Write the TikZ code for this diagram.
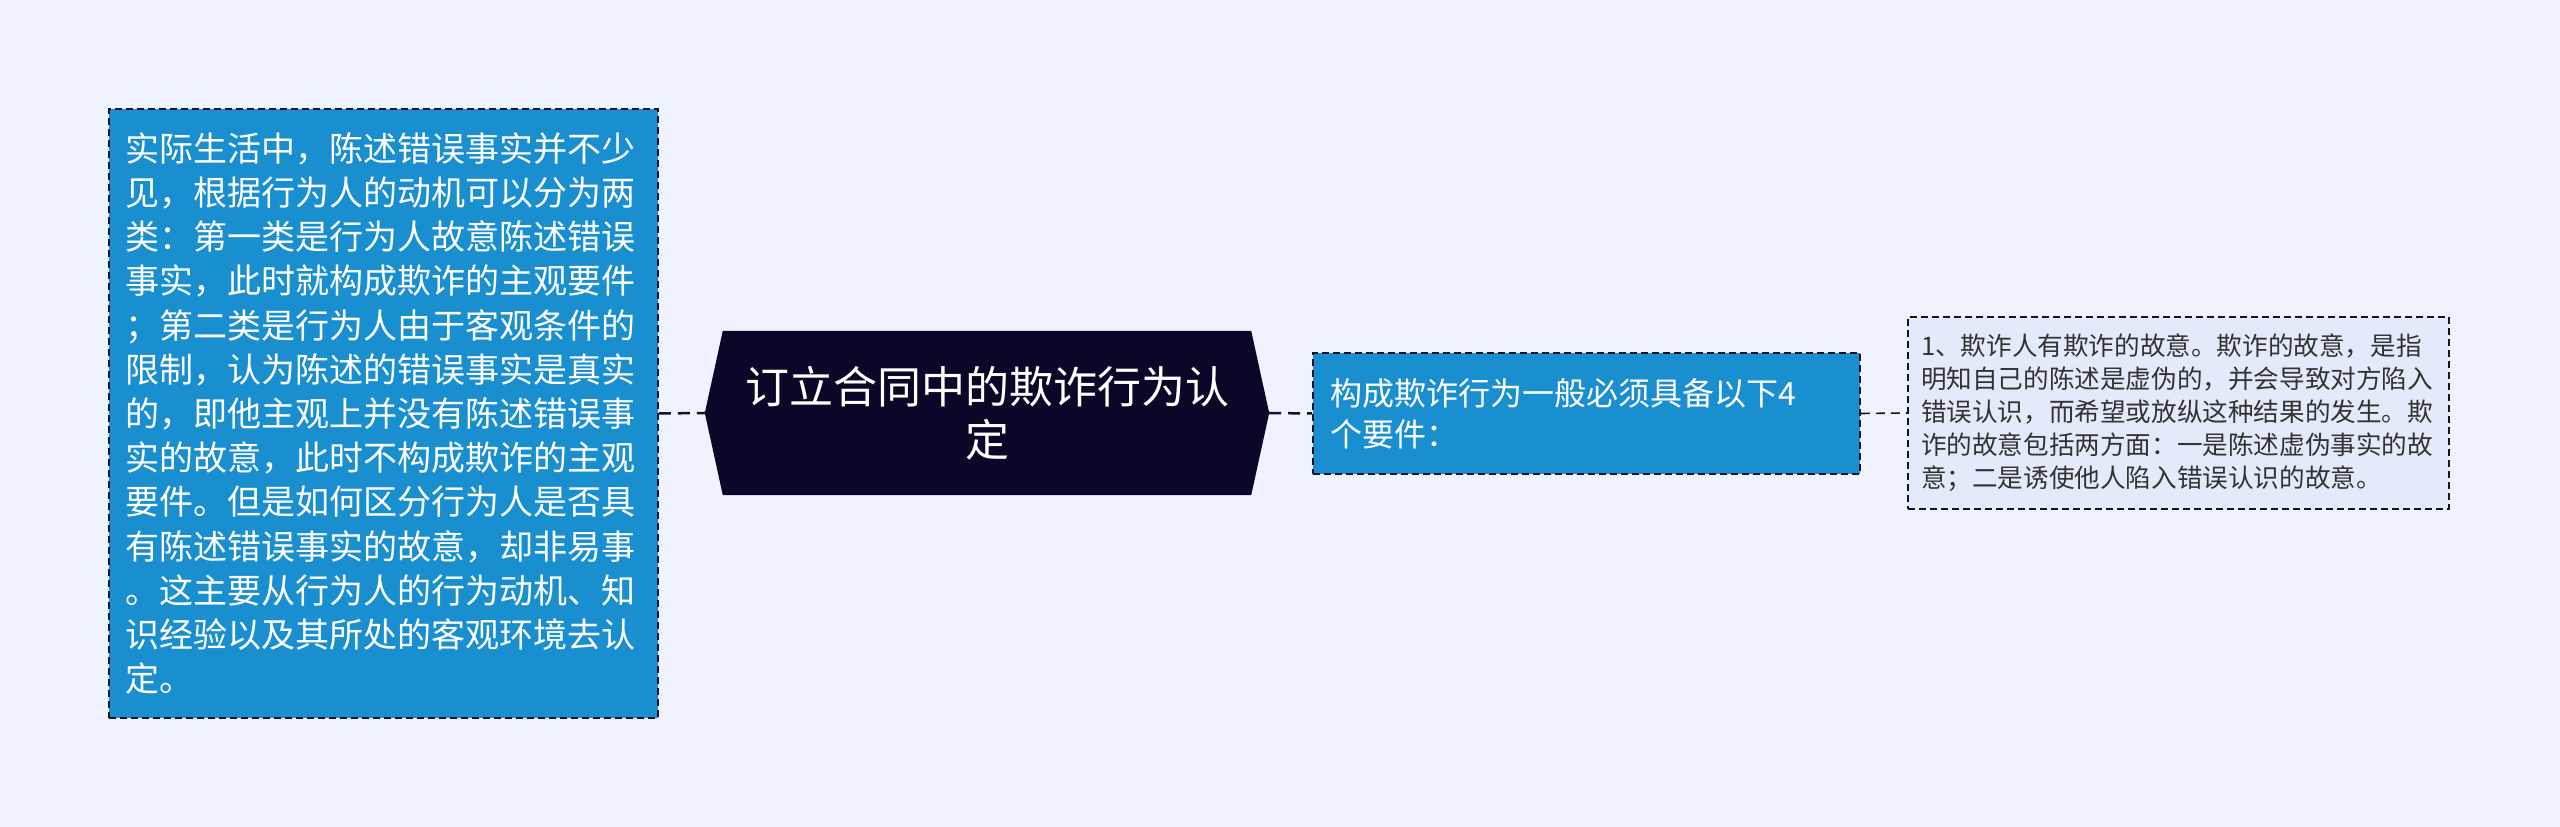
\documentclass[tikz,border=0pt]{standalone}
\usepackage{fontspec}
\setmainfont{Noto Sans CJK SC}
\definecolor{bgc}{HTML}{EEF3FE}
\definecolor{bluebox}{HTML}{1A8FD0}
\definecolor{navy}{HTML}{0B0728}
\definecolor{lineclr}{HTML}{14112E}
\definecolor{leafbg}{HTML}{E3EBFA}
\definecolor{leaftext}{HTML}{333333}
\tikzset{
  bluenode/.style={draw=lineclr, dash pattern=on 7pt off 4pt, line width=1.6pt, fill=bluebox,
    text=white, align=left, anchor=center, inner ysep=0pt},
  leafnode/.style={draw=lineclr, dash pattern=on 7pt off 4pt, line width=1.6pt, fill=leafbg,
    text=leaftext, align=left, anchor=center, inner ysep=0pt},
  link/.style={draw=lineclr, line width=2.5pt, dash pattern=on 12pt off 7pt}
}
\begin{document}
\begin{tikzpicture}[x=1pt,y=1pt]
\useasboundingbox (0,0) rectangle (2560,827);
\fill[bgc] (0,0) rectangle (2560,827);

% left box
\node[bluenode, minimum width=549pt, minimum height=609pt, text width=517pt, inner xsep=16pt,
  font=\fontsize{34}{44.2}\selectfont] (L) at (383.5,413.5)
{实际生活中，陈述错误事实并不少\\
见，根据行为人的动机可以分为两\\
类：第一类是行为人故意陈述错误\\
事实，此时就构成欺诈的主观要件\\
；第二类是行为人由于客观条件的\\
限制，认为陈述的错误事实是真实\\
的，即他主观上并没有陈述错误事\\
实的故意，此时不构成欺诈的主观\\
要件。但是如何区分行为人是否具\\
有陈述错误事实的故意，却非易事\\
。这主要从行为人的行为动机、知\\
识经验以及其所处的客观环境去认\\
定。};

% center node
\node[minimum width=564pt, minimum height=164pt, text=white, align=center, inner sep=0pt,
  font=\fontsize{44}{53}\selectfont] (C) at (987,414) {};
\fill[navy] (C.west) -- ([xshift=18pt]C.north west) -- ([xshift=-18pt]C.north east) -- (C.east)
  -- ([xshift=-18pt]C.south east) -- ([xshift=18pt]C.south west) -- cycle;
\node[text=white, align=center, font=\fontsize{44}{53}\selectfont] (CT) at (C.center)
{订立合同中的欺诈行为认\\定};

% middle node
\node[bluenode, minimum width=547pt, minimum height=121pt, text width=513pt, inner xsep=17pt,
  font=\fontsize{32}{41}\selectfont] (M) at (1586.5,413.5)
{构成欺诈行为一般必须具备以下4\\个要件：};

% right leaf
\node[leafnode, minimum width=541pt, minimum height=192pt, text width=515pt, inner xsep=13pt,
  font=\fontsize{25.6}{33}\selectfont] (R) at (2178.5,414)
{1、欺诈人有欺诈的故意。欺诈的故意，是指\\
明知自己的陈述是虚伪的，并会导致对方陷入\\
错误认识，而希望或放纵这种结果的发生。欺\\
诈的故意包括两方面：一是陈述虚伪事实的故\\
意；二是诱使他人陷入错误认识的故意。};

% connectors
\draw[link] (L.east) -- (C.west);
\draw[link] (C.east) -- (M.west);
\draw[draw=lineclr, line width=1.6pt, dash pattern=on 9pt off 6pt] (M.east) -- (R.west);
\end{tikzpicture}
\end{document}
